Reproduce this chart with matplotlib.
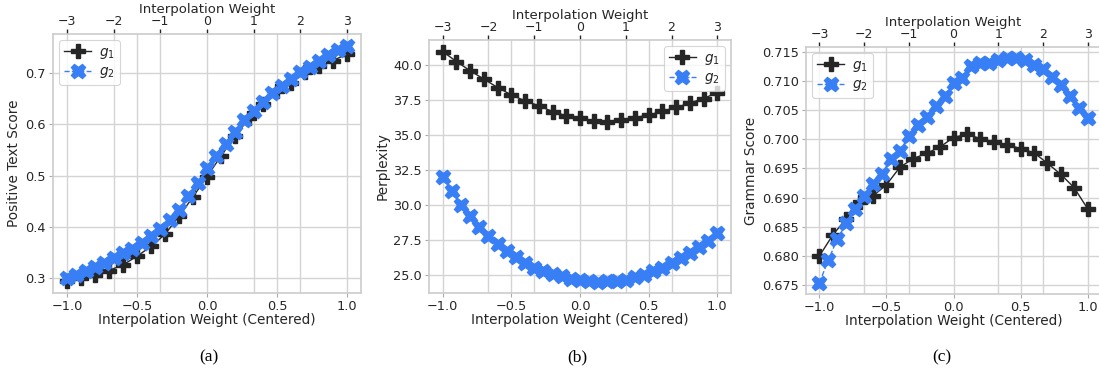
import numpy as np
import matplotlib
matplotlib.use("Agg")
import matplotlib.pyplot as plt

# ---------------- data ----------------
x_g1 = np.round(np.linspace(-1.0, 1.0, 21), 4)
x_g2 = np.round(np.linspace(-1.0, 1.0, 31), 4)

pos_g1 = [0.293, 0.299, 0.305, 0.314, 0.325, 0.342, 0.361, 0.385, 0.420, 0.458, 0.498,
          0.538, 0.577, 0.612, 0.640, 0.665, 0.682, 0.702, 0.714, 0.725, 0.738]
pos_g2 = [0.299, 0.305, 0.313, 0.321, 0.329, 0.338, 0.348, 0.357, 0.368, 0.381, 0.396,
          0.413, 0.433, 0.459, 0.485, 0.514, 0.539, 0.562, 0.585, 0.608, 0.626,
          0.644, 0.661, 0.675, 0.688, 0.703, 0.713, 0.725, 0.736, 0.746, 0.754]

ppl_g1 = [40.98, 40.26, 39.60, 39.00, 38.40, 37.87, 37.44, 37.09, 36.68, 36.37, 36.18,
          36.01, 35.94, 36.08, 36.25, 36.42, 36.70, 36.97, 37.28, 37.61, 38.04]
ppl_g2 = [32.00, 30.95, 30.00, 29.20, 28.37, 27.77, 27.17, 26.70, 26.22, 25.81, 25.50,
          25.26, 25.02, 24.86, 24.71, 24.59, 24.52, 24.50, 24.52, 24.55, 24.62,
          24.79, 25.00, 25.26, 25.50, 25.79, 26.15, 26.53, 26.94, 27.41, 27.94]

gram_g1 = [0.6800, 0.6836, 0.6864, 0.6893, 0.6903, 0.6922, 0.6952, 0.6967, 0.6976, 0.6987,
           0.7003, 0.7009, 0.7001, 0.6995, 0.6991, 0.6984, 0.6977, 0.6959, 0.6940, 0.6917,
           0.6881]
gram_g2 = [0.6754, 0.6793, 0.6829, 0.6856, 0.6880, 0.6902, 0.6924, 0.6941, 0.6967, 0.6980,
           0.7005, 0.7025, 0.7039, 0.7057, 0.7074, 0.7096, 0.7105, 0.7125, 0.7130, 0.7130,
           0.7136, 0.7139, 0.7139, 0.7136, 0.7127, 0.7121, 0.7106, 0.7093, 0.7074, 0.7053,
           0.7037]

ylabels = ["Positive Text Score", "Perplexity", "Grammar Score"]
yticks = [np.arange(0.3, 0.71, 0.1), np.arange(25.0, 40.1, 2.5), np.arange(0.675, 0.7151, 0.005)]
yfmt = ["{:.1f}", "{:.1f}", "{:.3f}"]
legend_loc = ["upper left", "upper right", "upper left"]
captions = ["(a)", "(b)", "(c)"]
top_ticks = [-3, -2, -1, 0, 1, 2, 3]
bottom_ticks = [-1.0, -0.5, 0.0, 0.5, 1.0]

# ---------------- style ----------------
TXT = "#262626"
GRID = "#d4d4d4"
BLACK = "#262626"
BLUE = "#387ef5"
TICK_FS = 9.3
LAB_FS = 9.8
plt.rcParams["font.family"] = ["DejaVu Sans"]
plt.rcParams["text.color"] = TXT
plt.rcParams["axes.labelcolor"] = TXT
plt.rcParams["xtick.color"] = TXT
plt.rcParams["ytick.color"] = TXT

fig = plt.figure(figsize=(10.99, 3.8), dpi=100)
W, H = 1099, 380
rects = [(53, 34, 361, 293), (429, 40, 731, 293), (806, 47, 1101, 294)]
cap_x = [209, 577, 942]

series = [(pos_g1, pos_g2), (ppl_g1, ppl_g2), (gram_g1, gram_g2)]

for i, (l, t, r, b) in enumerate(rects):
    ax = fig.add_axes([l / W, 1 - b / H, (r - l) / W, (b - t) / H])
    g1, g2 = series[i]
    ax.plot(x_g1, g1, color=BLACK, marker="P", markersize=10, lw=1.0,
            ls="-", label="$g_1$", zorder=3)
    ax.plot(x_g2, g2, color=BLUE, marker="X", markersize=10.5, lw=1.0,
            ls="--", label="$g_2$", zorder=4)
    ax.set_xlim(-1.1, 1.1)
    ax.set_xticks(bottom_ticks)
    ax.set_xticklabels(["{:.1f}".format(v).replace("-", "\u2212") for v in bottom_ticks])
    ax.set_xticks([v / 3 for v in top_ticks if v % 3 != 0], minor=True)
    ax.set_yticks(yticks[i])
    ax.set_yticklabels([yfmt[i].format(v) for v in yticks[i]])
    ax.grid(True, which="both", color=GRID, lw=1.0, zorder=0)
    ax.set_axisbelow(True)
    ax.tick_params(axis="both", which="major", labelsize=TICK_FS, length=3, width=0.8,
                   color="#aaaaaa", pad=2)
    ax.tick_params(axis="x", which="minor", length=0)
    for sp in ax.spines.values():
        sp.set_color("#cccccc")
        sp.set_linewidth(1.2)
    ax.set_xlabel("Interpolation Weight (Centered)", fontsize=LAB_FS, labelpad=0)
    ax.set_ylabel(ylabels[i], fontsize=LAB_FS, labelpad=3)

    sec = ax.secondary_xaxis("top", functions=(lambda v: 3 * v, lambda v: v / 3))
    sec.set_xticks(top_ticks)
    sec.set_xticklabels([str(v).replace("-", "\u2212") for v in top_ticks])
    sec.tick_params(labelsize=9.0, length=3.5, width=1.0, color=TXT, pad=0.5)
    sec.spines["top"].set_visible(False)
    sec.set_xlabel("Interpolation Weight", fontsize=9.5, labelpad=2.0)

    leg = ax.legend(loc=legend_loc[i], fontsize=LAB_FS, frameon=True, fancybox=True,
                    handlelength=2.0, borderpad=0.35, labelspacing=0.25,
                    handletextpad=0.6, borderaxespad=0.45)
    leg.get_frame().set_edgecolor("#cccccc")
    leg.get_frame().set_linewidth(0.8)

    fig.text(cap_x[i] / W, 1 - 357 / H, captions[i], ha="center", va="center",
             fontsize=12.5, family=["Liberation Serif", "DejaVu Serif"], color="black")

fig.savefig("out.png", dpi=100)
